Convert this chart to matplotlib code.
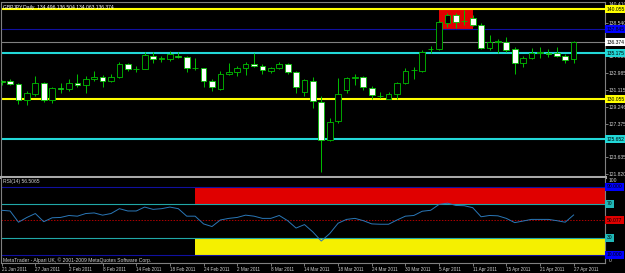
import numpy as np
import pandas as pd
import matplotlib
matplotlib.use('Agg')
import matplotlib.pyplot as plt
from matplotlib.patches import Rectangle
from matplotlib.transforms import blended_transform_factory

plt.rcParams['font.family'] = ['Liberation Sans', 'DejaVu Sans']

symbol_title = "GBPJPY,Daily  134.496 136.504 134.063 136.374"
rsi_title = "RSI(14) 56.5065"
copyright_text = "MetaTrader - Alpari UK, \u00a9 2001-2009 MetaQuotes Software Corp."

dates = pd.bdate_range('2011-01-21', periods=69)

opens = [132.05, 132.14, 131.78, 130.00, 130.67, 131.92, 130.00, 131.30, 131.19, 131.86,
         131.63, 132.30, 132.52, 132.14, 132.52, 133.99, 133.44, 133.47, 134.92, 134.58,
         134.58, 134.92, 134.80, 133.52, 133.52, 132.14, 131.19, 132.89, 133.14, 133.52,
         133.99, 133.77, 133.25, 133.52, 133.99, 133.07, 130.92, 132.14, 129.82, 125.57,
         127.71, 131.11, 132.44, 132.59, 131.37, 130.45, 130.15, 130.64, 131.86, 133.33,
         133.25, 135.62, 135.62, 138.57, 139.43, 138.76, 139.06, 138.32, 135.73, 136.47,
         136.40, 135.62, 134.14, 134.63, 135.25, 135.25, 135.25, 134.88, 134.496]
highs = [132.22, 132.30, 131.92, 131.03, 132.66, 132.03, 131.41, 131.92, 132.30, 132.89,
         132.66, 133.22, 132.78, 132.89, 134.22, 134.14, 133.77, 135.36, 135.36, 134.88,
         135.47, 135.36, 134.88, 134.63, 133.58, 132.37, 133.25, 134.14, 133.77, 134.22,
         135.18, 133.99, 133.70, 134.25, 134.14, 133.22, 132.33, 132.52, 130.45, 127.97,
         132.41, 132.59, 132.89, 132.66, 131.56, 130.93, 130.93, 132.03, 133.52, 133.70,
         135.55, 136.02, 138.87, 139.68, 139.62, 139.98, 139.43, 138.51, 137.21, 136.73,
         136.96, 135.85, 134.88, 135.73, 135.85, 135.62, 135.85, 135.10, 136.504]
lows = [131.67, 131.67, 129.53, 129.42, 130.45, 129.82, 129.71, 130.81, 131.03, 131.41,
        130.75, 132.14, 131.48, 132.03, 132.41, 133.19, 133.14, 133.44, 134.14, 134.25,
        134.33, 134.63, 133.14, 133.33, 131.41, 131.03, 131.11, 132.78, 132.66, 132.78,
        133.70, 132.89, 133.03, 133.44, 132.89, 130.81, 130.45, 129.08, 122.06, 125.46,
        127.49, 130.81, 131.67, 131.11, 130.08, 130.19, 130.08, 130.15, 131.78, 132.33,
        133.14, 135.18, 135.55, 138.06, 137.95, 138.32, 138.21, 135.62, 135.55, 135.25,
        135.36, 132.89, 133.70, 134.52, 134.63, 134.80, 134.74, 134.07, 134.063]
closes = [132.00, 131.78, 130.00, 130.81, 131.86, 130.00, 131.30, 131.19, 131.92, 131.63,
          132.30, 132.52, 132.14, 132.52, 133.99, 133.44, 133.42, 134.99, 134.52, 134.60,
          135.07, 134.80, 133.52, 133.50, 132.08, 131.48, 132.89, 133.14, 133.52, 134.03,
          133.77, 133.33, 133.52, 134.03, 133.07, 131.41, 132.22, 129.93, 125.57, 127.60,
          130.64, 132.41, 132.55, 131.41, 130.53, 130.47, 130.64, 131.92, 133.25, 133.35,
          135.36, 135.65, 138.68, 139.43, 138.68, 138.78, 138.32, 135.73, 136.47, 136.49,
          135.55, 134.14, 134.63, 135.18, 135.27, 135.07, 134.88, 134.44, 136.374]
rsi = [62.0, 61.2, 48.0, 53.6, 58.2, 48.6, 53.2, 53.6, 55.9, 55.1,
       58.2, 58.9, 56.3, 58.2, 63.9, 61.2, 61.2, 65.8, 63.1, 63.9,
       65.8, 63.9, 55.1, 55.1, 46.0, 42.9, 50.6, 52.5, 53.6, 56.3,
       55.1, 52.5, 52.5, 55.9, 49.8, 41.1, 45.2, 36.5, 25.8, 34.6,
       46.8, 51.3, 52.5, 49.8, 46.0, 45.6, 45.6, 50.6, 55.1, 55.9,
       60.9, 62.0, 68.9, 70.4, 67.7, 67.4, 65.1, 54.4, 55.9, 55.5,
       52.5, 47.5, 49.4, 51.3, 51.3, 51.3, 49.8, 48.0, 56.5]

# tick values visible on the price scale (those hidden under level labels omitted)
price_ticks = [138.540, 134.855, 132.985, 131.115, 129.246,
               127.375, 123.635, 121.820]
top_scale_label = 140.410
level_prices = [140.055, 137.845, 136.374, 135.175, 130.055, 125.652]
level_colors = ['#ffff00', '#1010a0', '#808080', '#22d8d8', '#ffff00', '#22d8d8']
level_box = ['#ffff00', '#0000ff', '#ffffff', '#22d8d8', '#ffff00', '#22d8d8']
level_widths = [1.5, 0.8, 0.8, 1.5, 1.5, 1.5]

rect_bars = (52, 56)
rect_prices = (137.845, 140.0)
rsi_rect_start = 23
rsi_levels_lines = [90, 70, 30, 10]
rsi_level_colors = ['#1010a0', '#20a8a8', '#20a8a8', '#1010a0']
rsi_level_labels = ['90.000', '70', '30', '10.000']
rsi_label_boxes = ['#0000ff', '#20b8b8', '#20b8b8', '#0000ff']
rsi_mid = 50.077

W, H = 625, 273
fig = plt.figure(figsize=(W / 100, H / 100), dpi=100, facecolor='black')

def frac(x0, y0, x1, y1):
    return [x0 / W, 1 - y1 / H, (x1 - x0) / W, (y1 - y0) / H]

ax = fig.add_axes(frac(1, 2, 605, 177), facecolor='black')
axr = fig.add_axes(frac(1, 178, 605, 263), facecolor='black')

n = len(opens)
x = np.arange(n)
xlim = (-0.08, 71.73)
green = '#00c000'
txtc = '#d0d0d0'
fs = 3.6
fs_date = 3.35

# ---- main panel ----
ax.set_xlim(*xlim)
ax.set_ylim(121.46, 140.86)
for p, c, w in zip(level_prices, level_colors, level_widths):
    ax.axhline(p, color=c, lw=w, zorder=1)
ax.add_patch(Rectangle((rect_bars[0], rect_prices[0]), rect_bars[1] - rect_bars[0],
                       rect_prices[1] - rect_prices[0], facecolor='#e00000',
                       edgecolor='none', zorder=0.5))
o = np.array(opens); c = np.array(closes)
ax.vlines(x, lows, highs, color=green, lw=0.7, zorder=2)
bottoms = np.minimum(o, c)
heights = np.maximum(np.abs(c - o), 0.02)
faces = ['white' if cc < oo else 'black' for oo, cc in zip(o, c)]
ax.bar(x, heights, bottom=bottoms, width=0.68, color=faces, edgecolor=green,
       linewidth=0.6, zorder=3)

ax.yaxis.tick_right()
ax.set_yticks(price_ticks)
ax.set_yticklabels([f"{t:.3f}" for t in price_ticks])
ax.tick_params(axis='y', colors='#909090', labelcolor=txtc, labelsize=fs,
               length=2, width=0.6, pad=0.6)
ax.set_xticks([])
for s in ax.spines.values():
    s.set_color('#808080'); s.set_linewidth(0.8)
ax.spines['bottom'].set_color('#a8a8a8'); ax.spines['bottom'].set_linewidth(2.2)

ax.text(1.006, 1.0, f"{top_scale_label:.3f}", transform=ax.transAxes, fontsize=fs,
        color=txtc, va='top', ha='left', zorder=4)
tr = blended_transform_factory(ax.transAxes, ax.transData)
for p, bc in zip(level_prices, level_box):
    ax.text(1.003, p, f"{p:.3f}", transform=tr, fontsize=fs, color='black',
            va='center', ha='left', clip_on=False, zorder=5,
            bbox=dict(boxstyle='square,pad=0.3', fc=bc, ec='none'))
ax.text(0.003, 0.985, symbol_title, transform=ax.transAxes, fontsize=fs,
        color='white', va='top', ha='left')

# ---- RSI panel ----
axr.set_xlim(*xlim)
axr.set_ylim(0, 100)
axr.add_patch(Rectangle((rsi_rect_start, 70), 100, 20, facecolor='#e00000',
                        edgecolor='none', zorder=0.5))
axr.add_patch(Rectangle((rsi_rect_start, 10), 100, 20, facecolor='#f5f000',
                        edgecolor='none', zorder=0.5))
for lv, lc in zip(rsi_levels_lines, rsi_level_colors):
    axr.axhline(lv, color=lc, lw=0.8, zorder=1)
axr.axhline(rsi_mid, color='#b00000', lw=0.7, ls=(0, (1.5, 1.5)), zorder=1)
axr.plot(x, rsi, color='#2a78b8', lw=0.7, zorder=3)

trr = blended_transform_factory(axr.transAxes, axr.transData)
for lv, lab, bc in zip(rsi_levels_lines, rsi_level_labels, rsi_label_boxes):
    axr.text(1.003, lv, lab, transform=trr, fontsize=fs, color='black',
             va='center', ha='left', clip_on=False, zorder=5,
             bbox=dict(boxstyle='square,pad=0.3', fc=bc, ec='none'))
axr.text(1.003, rsi_mid, f"{rsi_mid:.3f}", transform=trr, fontsize=fs, color='black',
         va='center', ha='left', clip_on=False, zorder=5,
         bbox=dict(boxstyle='square,pad=0.3', fc='#e00000', ec='none'))
axr.text(1.006, 100, "100", transform=trr, fontsize=fs, color=txtc, va='top', ha='left')
axr.text(1.006, 0, "0", transform=trr, fontsize=fs, color=txtc, va='bottom', ha='left')
axr.text(0.003, 0.985, rsi_title, transform=axr.transAxes, fontsize=fs,
         color=txtc, va='top', ha='left')
axr.text(0.003, 0.005, copyright_text, transform=axr.transAxes, fontsize=fs,
         color=txtc, va='bottom', ha='left')

tick_pos = x[::4]
tick_labels = [f"{d.day} {d.strftime('%b %Y')}" for d in dates[::4]]
axr.set_xticks(tick_pos)
axr.set_xticklabels(tick_labels, ha='left')
axr.tick_params(axis='x', colors='#909090', labelcolor=txtc, labelsize=fs_date,
                length=2, width=0.6, pad=0.8)
axr.set_yticks([])
for s in axr.spines.values():
    s.set_color('#808080'); s.set_linewidth(0.8)
axr.spines['top'].set_visible(False)

fig.savefig('out.png', dpi=100, facecolor='black')
